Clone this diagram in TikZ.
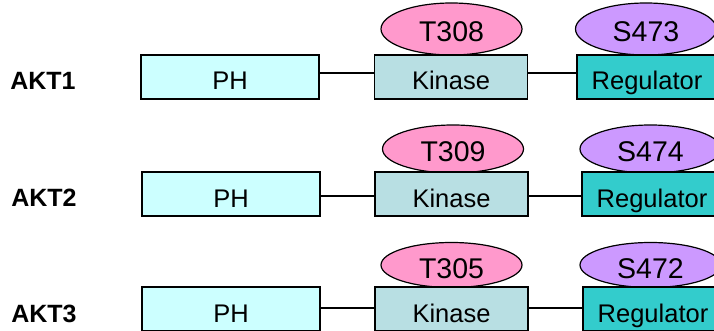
\documentclass[tikz,border=0pt]{standalone}
\usepackage{fontspec}
\setmainfont{Liberation Sans}
\usetikzlibrary{shapes.geometric}
\definecolor{phfill}{HTML}{CCFFFF}
\definecolor{kinfill}{HTML}{B8DFE3}
\definecolor{regfill}{HTML}{33CCCC}
\definecolor{tfill}{HTML}{FF99CC}
\definecolor{sfill}{HTML}{CC99FF}
\tikzset{
  dom/.style={draw=black, line width=1.2pt, rectangle, inner sep=0pt, outer sep=0pt,
    font=\fontsize{25.5}{30}\selectfont, text height=26pt, text depth=0pt, minimum height=44pt},
  ph/.style={dom, fill=phfill, minimum width=178pt},
  kin/.style={dom, fill=kinfill, minimum width=153pt},
  reg/.style={dom, fill=regfill, minimum width=140pt},
  site/.style={draw=black, line width=1.2pt, ellipse, inner sep=0pt, outer sep=0pt,
    minimum width=141pt, font=\fontsize{28.5}{32}\selectfont, text height=26pt, text depth=0pt},
  tsite/.style={site, fill=tfill},
  ssite/.style={site, fill=sfill},
  akt/.style={anchor=base, font=\fontsize{25}{30}\selectfont\bfseries, inner sep=0pt},
  link/.style={line width=1.4pt, draw=black}
}
\begin{document}
\begin{tikzpicture}[x=1pt,y=-1pt]
\useasboundingbox (0,0) rectangle (714,331);
\clip (0,0) rectangle (714,331);
\fill[white] (0,0) rectangle (714,331);
% labels
\node[akt] (l1) at (43,90) {AKT1};
\node[akt] (l2) at (44,206) {AKT2};
\node[akt] (l3) at (44,322) {AKT3};
% row 1
\node[tsite, minimum height=52pt] (t1) at (451.5,29) {T308};
\node[ssite, minimum height=52pt] (s1) at (646,29) {S473};
\node[ph] (ph1) at (230,77) {PH};
\node[kin] (k1) at (451,77) {Kinase};
\node[reg] (r1) at (647,77) {Regulator};
\draw[link] ([yshift=4pt]ph1.east) -- ([yshift=4pt]k1.west);
\draw[link] ([yshift=4pt]k1.east) -- ([yshift=4pt]r1.west);
% row 2
\node[tsite, minimum height=48pt] (t2) at (453,149) {T309};
\node[ssite, minimum height=48pt] (s2) at (650.5,149) {S474};
\node[ph] (ph2) at (231,194) {PH};
\node[kin] (k2) at (451.5,194) {Kinase};
\node[reg] (r2) at (652,194) {Regulator};
\draw[link] ([yshift=-2pt]ph2.east) -- ([yshift=-2pt]k2.west);
\draw[link] ([yshift=-2pt]k2.east) -- ([yshift=-2pt]r2.west);
% row 3
\node[tsite, minimum height=45pt] (t3) at (451.5,265) {T305};
\node[ssite, minimum height=45pt] (s3) at (650.5,265) {S472};
\node[ph] (ph3) at (231,309) {PH};
\node[kin] (k3) at (451.5,309) {Kinase};
\node[reg] (r3) at (653,309) {Regulator};
\draw[link] ([yshift=1pt]ph3.east) -- ([yshift=1pt]k3.west);
\draw[link] ([yshift=1pt]k3.east) -- ([yshift=1pt]r3.west);
\end{tikzpicture}
\end{document}
